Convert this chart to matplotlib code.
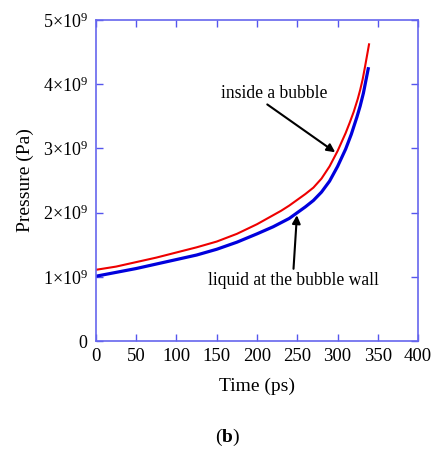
import matplotlib
matplotlib.use('Agg')
import matplotlib.pyplot as plt

plt.rcParams['font.family'] = 'Liberation Serif'
plt.rcParams['mathtext.fontset'] = 'custom'
plt.rcParams['mathtext.rm'] = 'Liberation Serif'
plt.rcParams['mathtext.it'] = 'Liberation Serif:italic'
plt.rcParams['mathtext.bf'] = 'Liberation Serif:bold'

# time (ps) and pressure (1e9 Pa)
t_bubble = [0, 25, 50, 75, 100, 125, 150, 175, 200, 210, 220, 230, 240, 250,
            260, 270, 280, 290, 300, 305, 310, 315, 320, 325, 328, 331, 334,
            336, 339]
p_bubble = [1.11, 1.16, 1.23, 1.30, 1.38, 1.46, 1.55, 1.67, 1.82, 1.89, 1.96,
            2.03, 2.11, 2.20, 2.29, 2.39, 2.53, 2.72, 2.96, 3.10, 3.24, 3.40,
            3.57, 3.77, 3.91, 4.07, 4.27, 4.41, 4.62]

t_wall = [0, 25, 50, 75, 100, 125, 150, 175, 200, 220, 240, 250, 260, 270,
          280, 290, 300, 310, 317, 324, 328, 332, 335, 338]
p_wall = [1.01, 1.07, 1.13, 1.20, 1.27, 1.34, 1.43, 1.54, 1.67, 1.78, 1.91,
          2.00, 2.09, 2.19, 2.32, 2.49, 2.72, 2.99, 3.22, 3.49, 3.66, 3.86,
          4.05, 4.24]

x_ticks = [0, 50, 100, 150, 200, 250, 300, 350, 400]
y_ticks = [0, 1e9, 2e9, 3e9, 4e9, 5e9]
y_labels = ['0', r'1$\times$10$^9$', r'2$\times$10$^9$', r'3$\times$10$^9$',
            r'4$\times$10$^9$', r'5$\times$10$^9$']

fig = plt.figure(figsize=(4.32, 4.53), dpi=100)
ax = fig.add_axes([0.222, 0.247, 0.746, 0.709])

ax.plot(t_wall, [p * 1e9 for p in p_wall], color='#0000dd', lw=2.3)
ax.plot(t_bubble, [p * 1e9 for p in p_bubble], color='#ee0000', lw=1.5)

ax.set_xlim(0, 400)
ax.set_ylim(0, 5e9)
ax.set_xticks(x_ticks)
ax.set_yticks(y_ticks)
ax.set_yticklabels(y_labels)
ax.tick_params(direction='in', top=True, right=True, length=5, width=1,
               color='#5555ee', labelsize=13.5, pad=5)
ax.tick_params(axis='y', labelsize=13, pad=6)
for s in ax.spines.values():
    s.set_color('#6666ee')
    s.set_linewidth(1.2)

ax.set_xlabel('Time (ps)', fontsize=14, labelpad=9)
ax.set_ylabel('Pressure (Pa)', fontsize=14, labelpad=6)

ax.annotate('inside a bubble', xy=(297, 2.94e9), xytext=(155, 3.86e9),
            fontsize=12.7, va='center', ha='left',
            arrowprops=dict(arrowstyle='-|>', color='black', lw=1.5,
                            mutation_scale=12, shrinkA=0, shrinkB=0,
                            relpos=(0.4, 0.0)))
ax.annotate('liquid at the bubble wall', xy=(249.5, 1.96e9), xytext=(139, 0.95e9),
            fontsize=12.7, va='center', ha='left',
            arrowprops=dict(arrowstyle='-|>', color='black', lw=1.5,
                            mutation_scale=12, shrinkA=0, shrinkB=0,
                            relpos=(0.5, 1.0)))

fig.text(0.527, 0.035, r'($\mathbf{b}$)', fontsize=14, ha='center', va='center')

fig.savefig('out.png', dpi=100)
